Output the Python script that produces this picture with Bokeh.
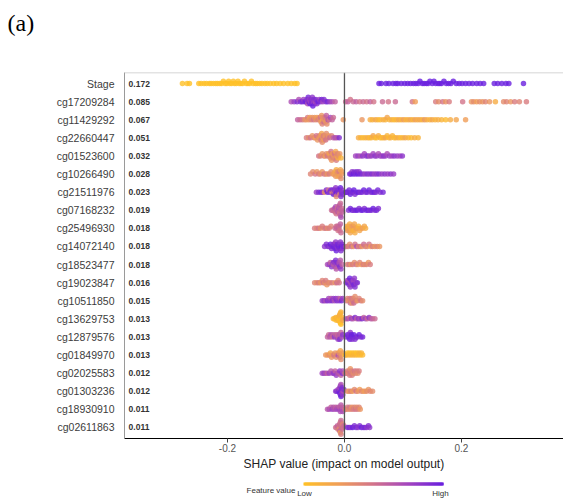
import numpy as np
from bokeh.plotting import figure
from bokeh.models import ColumnDataSource, Range1d, FixedTicker, Span
from bokeh.layouts import column
from bokeh.embed import file_html
from bokeh.resources import INLINE
from bokeh.core.properties import value

# ---------------- data ----------------
features = ["Stage", "cg17209284", "cg11429292", "cg22660447", "cg01523600",
            "cg10266490", "cg21511976", "cg07168232", "cg25496930", "cg14072140",
            "cg18523477", "cg19023847", "cg10511850", "cg13629753", "cg12879576",
            "cg01849970", "cg02025583", "cg01303236", "cg18930910", "cg02611863"]
mean_abs = [0.172, 0.085, 0.067, 0.051, 0.032, 0.028, 0.023, 0.019, 0.018, 0.018,
            0.018, 0.016, 0.015, 0.013, 0.013, 0.013, 0.012, 0.012, 0.011, 0.011]
x_ticks = [-0.2, 0.0, 0.2]
x_tick_labels = ["-0.2", "0.0", "0.2"]

# (SHAP value, normalised feature value) per sample
stage = [(-0.277,0),(-0.269,0),(-0.265,0),(-0.249,0),(-0.245,0),(-0.240,0),(-0.236,0),(-0.231,0),
         (-0.228,0),(-0.224,0),(-0.220,0),(-0.217,0),(-0.213,0),(-0.210,0),(-0.207,0),(-0.204,0),
         (-0.201,0),(-0.198,0),(-0.196,0),(-0.193,0),(-0.190,0),(-0.188,0),(-0.185,0),(-0.182,0),
         (-0.180,0),(-0.177,0),(-0.174,0),(-0.171,0),(-0.168,0),(-0.165,0),(-0.162,0),(-0.159,0),
         (-0.156,0),(-0.152,0),(-0.149,0),(-0.145,0),(-0.141,0),(-0.136,0),(-0.132,0),(-0.127,0),
         (-0.121,0),(-0.116,0),(-0.110,0),(-0.104,0),(-0.097,0),(-0.091,0),(-0.085,0),(-0.081,0),
         (0.059,1),(0.063,1),(0.071,1),(0.076,1),(0.083,1),(0.088,1),(0.091,1),(0.097,1),
         (0.103,1),(0.108,1),(0.113,1),(0.118,1),(0.122,1),(0.126,1),(0.129,1),(0.133,1),
         (0.136,1),(0.140,1),(0.143,1),(0.146,1),(0.150,1),(0.153,1),(0.156,1),(0.160,1),
         (0.163,1),(0.166,1),(0.170,1),(0.174,1),(0.178,1),(0.182,1),(0.186,1),(0.191,1),
         (0.196,1),(0.201,1),(0.207,1),(0.213,1),(0.219,1),(0.226,1),(0.232,1),(0.238,1),
         (0.256,1),(0.262,1),(0.269,1),(0.276,1),(0.281,1),(0.306,1)]
cg17209284 = [(-0.091,0.7),(-0.086,0.8),(-0.081,0.9),(-0.078,0.7),(-0.075,0.9),(-0.072,0.95),(-0.070,0.8),
              (-0.068,0.9),(-0.066,1.0),(-0.064,0.85),(-0.063,0.7),(-0.062,0.95),(-0.061,0.9),(-0.060,0.8),
              (-0.059,1.0),(-0.058,0.75),(-0.057,0.9),(-0.056,0.95),(-0.055,0.85),(-0.054,1.0),(-0.053,0.8),
              (-0.052,0.9),(-0.051,0.95),(-0.050,0.7),(-0.049,0.9),(-0.047,0.85),(-0.045,1.0),(-0.043,0.8),
              (-0.041,0.9),(-0.039,0.95),(-0.037,0.75),(-0.035,0.9),(-0.032,0.85),(-0.029,0.95),(-0.025,0.8),
              (-0.021,0.7),(-0.016,0.6),
              (0.002,0.55),(0.006,0.6),(0.010,0.5),(0.015,0.55),(0.020,0.6),(0.026,0.5),(0.032,0.55),
              (0.038,0.5),(0.044,0.6),(0.050,0.5),(0.065,0.55),(0.075,0.5),(0.087,0.55),(0.116,0.5),
              (0.121,0.25),(0.156,0.45),(0.161,0.35),(0.168,0.5),(0.173,0.3),(0.179,0.45),(0.202,0.5),
              (0.217,0.3),(0.221,0.35),(0.226,0.25),(0.231,0.35),(0.236,0.3),(0.241,0.4),(0.248,0.3),
              (0.258,0.15),(0.272,0.35),(0.277,0.4),(0.284,0.3),(0.291,0.45),(0.299,0.4),(0.311,0.45)]
cg11429292 = [(-0.080,0.6),(-0.076,0.55),(-0.072,0.5),(-0.068,0.35),(-0.065,0.3),(-0.063,0.45),(-0.061,0.3),
              (-0.059,0.25),(-0.057,0.4),(-0.055,0.3),(-0.053,0.5),(-0.051,0.3),(-0.049,0.35),(-0.047,0.25),
              (-0.045,0.45),(-0.043,0.3),(-0.042,0.35),(-0.041,0.5),(-0.040,0.25),(-0.039,0.3),(-0.038,0.4),
              (-0.037,0.2),(-0.036,0.35),(-0.035,0.55),(-0.034,0.3),(-0.033,0.45),(-0.032,0.3),(-0.031,0.6),
              (-0.030,0.35),(-0.028,0.7),(-0.026,0.5),(-0.024,0.75),(-0.021,0.6),(-0.019,0.55),(-0.002,0.3),
              (0.030,0.3),(0.044,0.15),(0.048,0.1),(0.053,0.2),(0.057,0.1),(0.061,0.05),(0.066,0.15),
              (0.070,0.1),(0.073,0.2),(0.077,0.1),(0.081,0.15),(0.085,0.05),(0.089,0.1),(0.093,0.2),
              (0.097,0.1),(0.101,0.25),(0.105,0.1),(0.109,0.15),(0.113,0.2),(0.117,0.1),(0.121,0.25),
              (0.125,0.15),(0.129,0.2),(0.133,0.1),(0.137,0.3),(0.141,0.15),(0.146,0.1),(0.150,0.2),
              (0.155,0.1),(0.160,0.15),(0.166,0.1),(0.173,0.05),(0.181,0.15),(0.191,0.2),(0.207,0.25)]
cg22660447 = [(-0.065,0.45),(-0.061,0.35),(-0.058,0.5),(-0.055,0.3),(-0.052,0.4),(-0.050,0.25),(-0.048,0.5),
              (-0.046,0.3),(-0.044,0.35),(-0.043,0.45),(-0.042,0.25),(-0.041,0.3),(-0.040,0.5),(-0.039,0.2),
              (-0.038,0.35),(-0.037,0.3),(-0.036,0.45),(-0.035,0.25),(-0.034,0.4),(-0.033,0.3),(-0.032,0.5),
              (-0.031,0.35),(-0.029,0.45),(-0.027,0.3),(-0.025,0.55),(-0.022,0.4),(-0.019,0.6),(-0.016,0.7),
              (-0.013,0.65),(-0.009,0.9),
              (0.024,0.15),(0.028,0.1),(0.032,0.05),(0.036,0.1),(0.040,0.15),(0.043,0.05),(0.046,0.1),
              (0.049,0.2),(0.052,0.1),(0.055,0.05),(0.058,0.15),(0.061,0.1),(0.064,0.05),(0.067,0.1),
              (0.070,0.2),(0.073,0.1),(0.076,0.05),(0.079,0.15),(0.082,0.1),(0.085,0.05),(0.088,0.1),
              (0.092,0.15),(0.096,0.05),(0.100,0.1),(0.104,0.2),(0.109,0.1),(0.114,0.05),(0.120,0.15),
              (0.126,0.1)]
cg01523600 = [(-0.044,0.5),(-0.041,0.4),(-0.038,0.3),(-0.035,0.45),(-0.033,0.25),(-0.031,0.35),(-0.029,0.5),
              (-0.027,0.3),(-0.026,0.4),(-0.025,0.2),(-0.024,0.35),(-0.023,0.5),(-0.022,0.3),(-0.021,0.45),
              (-0.020,0.25),(-0.019,0.4),(-0.018,0.3),(-0.017,0.5),(-0.016,0.35),(-0.015,0.2),(-0.014,0.45),
              (-0.013,0.3),(-0.012,0.4),(-0.011,0.15),(-0.010,0.35),(-0.008,0.3),(-0.006,0.1),
              (0.019,0.75),(0.023,0.8),(0.027,0.7),(0.031,0.85),(0.034,0.75),(0.037,0.8),(0.040,0.9),
              (0.043,0.7),(0.046,0.8),(0.049,0.75),(0.052,0.85),(0.055,0.8),(0.058,0.7),(0.061,0.8),
              (0.064,0.75),(0.067,0.85),(0.070,0.8),(0.073,0.7),(0.077,0.8),(0.081,0.75),(0.085,0.85),
              (0.090,0.8),(0.095,0.75),(0.099,0.85)]
cg10266490 = [(-0.058,0.4),(-0.054,0.35),(-0.050,0.5),(-0.047,0.3),(-0.044,0.45),(-0.041,0.35),(-0.038,0.3),
              (-0.035,0.5),(-0.032,0.4),(-0.029,0.3),(-0.026,0.45),(-0.023,0.35),(-0.020,0.3),(-0.018,0.25),
              (-0.016,0.2),(-0.015,0.3),(-0.014,0.15),(-0.013,0.25),(-0.012,0.35),(-0.011,0.2),(-0.010,0.3),
              (-0.009,0.45),(-0.008,0.25),(-0.007,0.2),(-0.006,0.35),(-0.005,0.3),(-0.004,0.25),
              (0.009,0.9),(0.011,0.95),(0.013,0.85),(0.015,1.0),(0.017,0.9),(0.019,0.95),(0.021,0.9),
              (0.023,1.0),(0.025,0.85),(0.027,0.95),(0.031,0.9),(0.035,0.8),(0.039,0.9),(0.043,0.85),
              (0.047,0.9),(0.051,0.8),(0.055,0.85),(0.059,0.9),(0.064,0.8),(0.069,0.85),(0.074,0.8),
              (0.079,0.85),(0.084,0.8)]
cg21511976 = [(-0.048,0.8),(-0.044,0.9),(-0.040,0.95),(-0.037,0.85),(-0.034,0.3),(-0.031,0.9),(-0.029,1.0),
              (-0.027,0.5),(-0.025,0.9),(-0.023,0.95),(-0.021,0.3),(-0.020,0.9),(-0.019,1.0),(-0.018,0.45),
              (-0.017,0.9),(-0.016,0.95),(-0.015,0.85),(-0.014,0.35),(-0.013,1.0),(-0.012,0.9),(-0.011,0.55),
              (-0.010,0.95),(-0.009,0.9),(-0.008,0.4),(-0.007,1.0),(-0.006,0.9),(-0.005,0.95),(-0.004,0.85),
              (-0.003,0.9),
              (0.002,0.95),(0.004,1.0),(0.006,0.9),(0.008,0.95),(0.010,1.0),(0.012,0.9),(0.014,0.95),
              (0.016,1.0),(0.018,0.9),(0.021,0.95),(0.024,1.0),(0.027,0.9),(0.030,0.95),(0.033,1.0),
              (0.036,0.9),(0.039,0.95),(0.042,1.0),(0.045,0.9),(0.048,0.95),(0.051,1.0),(0.054,0.9),
              (0.057,0.95),(0.061,0.9),(0.066,0.95)]
cg07168232 = [(-0.022,0.55),(-0.020,0.6),(-0.018,0.5),(-0.017,0.65),(-0.016,0.55),(-0.015,0.7),(-0.014,0.5),
              (-0.013,0.6),(-0.012,0.55),(-0.011,0.65),(-0.011,0.5),(-0.010,0.6),(-0.010,0.7),(-0.009,0.55),
              (-0.009,0.6),(-0.008,0.5),(-0.008,0.65),(-0.007,0.6),(-0.007,0.55),(-0.006,0.7),(-0.005,0.6),
              (-0.004,0.55),(-0.003,0.6),
              (0.007,0.9),(0.010,0.95),(0.013,1.0),(0.016,0.9),(0.019,0.95),(0.022,1.0),(0.025,0.9),
              (0.028,0.95),(0.031,1.0),(0.034,0.9),(0.037,0.95),(0.040,1.0),(0.043,0.9),(0.046,0.95),
              (0.049,1.0),(0.052,0.9),(0.055,0.95),(0.058,0.9)]
cg25496930 = [(-0.051,0.45),(-0.047,0.4),(-0.044,0.5),(-0.041,0.35),(-0.038,0.45),(-0.035,0.4),(-0.032,0.5),
              (-0.029,0.35),(-0.026,0.45),(-0.023,0.4),(-0.016,0.55),(-0.014,0.5),(-0.013,0.6),(-0.012,0.55),
              (-0.011,0.5),(-0.010,0.6),(-0.009,0.55),(-0.008,0.5),(-0.007,0.6),(-0.006,0.55),
              (0.003,0.2),(0.004,0.15),(0.005,0.25),(0.006,0.1),(0.007,0.2),(0.008,0.3),(0.009,0.15),
              (0.010,0.2),(0.011,0.1),(0.012,0.25),(0.013,0.15),(0.014,0.2),(0.015,0.3),(0.016,0.1),
              (0.017,0.2),(0.018,0.15),(0.020,0.25),(0.022,0.2),(0.024,0.1),(0.026,0.2),(0.028,0.15),
              (0.031,0.25),(0.034,0.2),(0.036,0.15)]
cg14072140 = [(-0.034,0.85),(-0.031,0.9),(-0.028,0.95),(-0.026,0.85),(-0.024,1.0),(-0.022,0.9),(-0.020,0.95),
              (-0.019,0.85),(-0.018,1.0),(-0.017,0.9),(-0.016,0.95),(-0.015,0.8),(-0.014,1.0),(-0.013,0.9),
              (-0.012,0.95),(-0.011,0.85),(-0.010,1.0),(-0.009,0.9),(-0.008,0.95),(-0.007,0.85),(-0.006,0.9),
              (-0.005,1.0),(-0.004,0.9),(-0.003,0.85),(-0.002,0.95),
              (0.003,0.5),(0.006,0.45),(0.009,0.35),(0.012,0.55),(0.015,0.3),(0.018,0.5),(0.021,0.7),
              (0.024,0.4),(0.027,0.5),(0.030,0.3),(0.033,0.55),(0.036,0.45),(0.039,0.35),(0.042,0.5),
              (0.045,0.25),(0.048,0.45),(0.052,0.3),(0.056,0.4),(0.060,0.3)]
cg18523477 = [(-0.029,0.7),(-0.026,0.8),(-0.024,0.6),(-0.022,0.85),(-0.020,0.75),(-0.019,0.9),(-0.018,0.6),
              (-0.017,0.85),(-0.016,0.7),(-0.015,0.9),(-0.014,0.65),(-0.013,0.8),(-0.012,0.9),(-0.011,0.6),
              (-0.010,0.85),(-0.009,0.7),(-0.008,0.9),(-0.007,0.65),(-0.006,0.8),(-0.004,0.6),
              (0.005,0.4),(0.008,0.5),(0.011,0.3),(0.014,0.45),(0.017,0.35),(0.020,0.5),(0.023,0.3),
              (0.026,0.4),(0.029,0.25),(0.032,0.45),(0.035,0.35),(0.038,0.4),(0.041,0.3),(0.044,0.45)]
cg19023847 = [(-0.051,0.4),(-0.047,0.35),(-0.044,0.45),(-0.041,0.3),(-0.038,0.4),(-0.036,0.5),(-0.034,0.35),
              (-0.032,0.45),(-0.030,0.3),(-0.028,0.4),(-0.025,0.35),(-0.021,0.45),(-0.016,0.3),(-0.013,0.55),
              (-0.011,0.4),(-0.009,0.5),
              (0.003,0.9),(0.005,0.8),(0.006,0.95),(0.007,0.7),(0.008,0.9),(0.009,1.0),(0.010,0.85),
              (0.011,0.7),(0.012,0.95),(0.013,0.8),(0.014,0.9),(0.015,0.75),(0.016,0.95),(0.017,0.85),
              (0.018,0.9),(0.020,0.8),(0.022,0.9)]
cg10511850 = [(-0.038,0.8),(-0.035,0.85),(-0.032,0.7),(-0.029,0.9),(-0.027,0.75),(-0.025,0.85),(-0.023,0.65),
              (-0.021,0.9),(-0.019,0.8),(-0.017,0.7),(-0.015,0.85),(-0.013,0.9),(-0.011,0.75),(-0.009,0.85),
              (-0.007,0.6),(-0.005,0.95),(-0.003,0.8),
              (0.003,0.5),(0.005,0.4),(0.007,0.3),(0.009,0.45),(0.010,0.55),(0.011,0.35),(0.012,0.5),
              (0.013,0.3),(0.014,0.45),(0.015,0.4),(0.016,0.55),(0.018,0.35),(0.020,0.45),(0.022,0.3),
              (0.025,0.4),(0.028,0.5),(0.031,0.35)]
cg13629753 = [(-0.019,0.1),(-0.017,0.05),(-0.015,0.1),(-0.014,0.0),(-0.013,0.1),(-0.012,0.05),(-0.011,0.15),
              (-0.010,0.05),(-0.010,0.1),(-0.009,0.0),(-0.009,0.1),(-0.008,0.05),(-0.008,0.15),(-0.007,0.05),
              (-0.007,0.1),(-0.006,0.0),(-0.006,0.1),(-0.005,0.05),(-0.004,0.1),(-0.003,0.2),
              (0.003,0.6),(0.006,0.7),(0.009,0.55),(0.012,0.8),(0.015,0.65),(0.018,0.9),(0.021,0.6),
              (0.024,0.85),(0.027,0.7),(0.030,0.9),(0.033,0.6),(0.036,0.8),(0.039,0.55),(0.042,0.85),
              (0.045,0.65),(0.048,0.6),(0.052,0.55)]
cg12879576 = [(-0.029,0.6),(-0.027,0.55),(-0.025,0.65),(-0.023,0.7),(-0.021,0.55),(-0.019,0.6),(-0.017,0.85),
              (-0.015,0.6),(-0.013,0.7),(-0.012,0.55),(-0.011,0.8),(-0.010,0.6),(-0.009,0.65),(-0.008,0.9),
              (-0.006,0.6),(-0.004,0.7),(-0.003,0.85),
              (0.003,0.9),(0.005,1.0),(0.007,0.95),(0.008,0.9),(0.009,1.0),(0.010,0.85),(0.011,0.95),
              (0.012,1.0),(0.013,0.9),(0.014,0.95),(0.016,1.0),(0.018,0.9),(0.020,0.95),(0.022,0.9),
              (0.025,1.0),(0.028,0.9),(0.031,0.95)]
cg01849970 = [(-0.032,0.3),(-0.029,0.25),(-0.026,0.35),(-0.024,0.2),(-0.022,0.3),(-0.020,0.25),(-0.018,0.5),
              (-0.016,0.3),(-0.014,0.35),(-0.012,0.55),(-0.011,0.25),(-0.010,0.7),(-0.009,0.3),(-0.008,0.45),
              (-0.007,0.2),(-0.006,0.35),(-0.005,0.3),(-0.003,0.25),
              (0.001,0.05),(0.003,0.1),(0.005,0.0),(0.007,0.1),(0.009,0.05),(0.011,0.1),(0.013,0.0),
              (0.015,0.1),(0.017,0.05),(0.019,0.1),(0.021,0.0),(0.023,0.05),(0.025,0.1),(0.027,0.05),
              (0.029,0.1),(0.031,0.05)]
cg02025583 = [(-0.038,0.75),(-0.035,0.8),(-0.032,0.7),(-0.029,0.6),(-0.026,0.8),(-0.023,0.65),(-0.020,0.75),
              (-0.018,0.85),(-0.016,0.6),(-0.014,0.8),(-0.012,0.7),(-0.010,0.65),(-0.008,0.85),(-0.006,0.6),
              (-0.004,0.9),(-0.003,0.7),
              (0.001,0.45),(0.003,0.5),(0.005,0.4),(0.007,0.35),(0.008,0.5),(0.009,0.45),(0.010,0.3),
              (0.011,0.5),(0.012,0.4),(0.013,0.45),(0.015,0.35),(0.017,0.5),(0.019,0.4),(0.021,0.45),
              (0.023,0.35),(0.025,0.45)]
cg01303236 = [(-0.015,0.85),(-0.013,0.9),(-0.011,0.7),(-0.010,0.95),(-0.009,0.85),(-0.008,1.0),(-0.008,0.75),
              (-0.007,0.9),(-0.007,0.85),(-0.006,1.0),(-0.006,0.7),(-0.005,0.9),(-0.005,0.95),(-0.004,0.8),
              (-0.004,0.9),(-0.003,0.85),(-0.002,0.7),(-0.001,0.9),
              (0.005,0.35),(0.008,0.3),(0.011,0.45),(0.014,0.25),(0.017,0.35),(0.020,0.5),(0.023,0.3),
              (0.026,0.25),(0.029,0.4),(0.032,0.3),(0.035,0.25),(0.038,0.35),(0.041,0.3),(0.044,0.4),
              (0.048,0.35)]
cg18930910 = [(-0.029,0.65),(-0.026,0.7),(-0.023,0.6),(-0.021,0.8),(-0.019,0.65),(-0.017,0.7),(-0.015,0.6),
              (-0.013,0.75),(-0.011,0.65),(-0.009,0.8),(-0.008,0.6),(-0.007,0.7),(-0.006,0.65),(-0.005,0.75),
              (-0.004,0.6),(-0.003,0.7),
              (0.001,0.5),(0.003,0.4),(0.005,0.45),(0.007,0.35),(0.009,0.5),(0.011,0.4),(0.013,0.3),
              (0.015,0.45),(0.017,0.4),(0.019,0.5),(0.021,0.35),(0.023,0.45),(0.025,0.4),(0.027,0.3)]
cg02611863 = [(-0.015,0.55),(-0.013,0.5),(-0.012,0.6),(-0.011,0.45),(-0.010,0.55),(-0.009,0.5),(-0.009,0.35),
              (-0.008,0.55),(-0.008,0.6),(-0.007,0.5),(-0.007,0.2),(-0.006,0.55),(-0.006,0.45),(-0.005,0.6),
              (-0.005,0.5),(-0.004,0.55),(-0.003,0.4),(-0.002,0.5),(-0.001,0.55),
              (0.005,0.9),(0.008,0.95),(0.011,0.85),(0.014,1.0),(0.017,0.9),(0.020,0.95),(0.023,0.85),
              (0.026,0.9),(0.029,1.0),(0.032,0.9),(0.035,0.95),(0.038,0.85),(0.041,0.9),(0.043,0.85)]

samples = [stage, cg17209284, cg11429292, cg22660447, cg01523600, cg10266490, cg21511976,
           cg07168232, cg25496930, cg14072140, cg18523477, cg19023847, cg10511850, cg13629753,
           cg12879576, cg01849970, cg02025583, cg01303236, cg18930910, cg02611863]

# ---------------- colour map (low = yellow, high = purple) ----------------
STOPS = [(0.0, (255, 193, 40)), (0.25, (240, 158, 88)), (0.5, (210, 116, 138)),
         (0.75, (164, 70, 190)), (1.0, (106, 32, 222))]

def cmap(v):
    v = min(max(v, 0.0), 1.0)
    for (a, ca), (b, cb) in zip(STOPS[:-1], STOPS[1:]):
        if v <= b:
            t = (v - a) / (b - a)
            c = [round(ca[k] + t * (cb[k] - ca[k])) for k in range(3)]
            return "#%02x%02x%02x" % tuple(c)
    return "#%02x%02x%02x" % STOPS[-1][1]

BIN = 0.004
STEP = 0.12

def swarm(xs):
    xs = np.asarray(xs, dtype=float)
    q = np.round(xs / BIN)
    order = np.argsort(q, kind="stable")
    ys = np.zeros(len(xs))
    layer, last = 0, None
    for i in order:
        if q[i] != last:
            layer = 0
        ys[i] = np.ceil(layer / 2) * ((layer % 2) * 2 - 1)
        layer += 1
        last = q[i]
    m = np.abs(ys).max()
    step = STEP if m == 0 else min(STEP, 0.38 / m)
    return ys * step

n = len(features)
xs, ys, cols = [], [], []
for i, pts in enumerate(samples):
    row = n - 1 - i
    sx = [p_[0] for p_ in pts]
    off = swarm(sx)
    for (s, v), o in zip(pts, off):
        xs.append(s)
        ys.append(row + o)
        cols.append(cmap(v))

src = ColumnDataSource(dict(x=xs, y=ys, c=cols))

# ---------------- main figure ----------------
W = 563
H1 = 476
PX = 585.0                       # pixels per SHAP unit
Y_TOP = 19.61
xr = Range1d(-0.376, 0.3744)
p = figure(width=W, height=H1, x_range=xr, y_range=Range1d(-0.61, Y_TOP),
           output_backend="svg", toolbar_location=None,
           min_border_left=124, min_border_right=0, min_border_top=71, min_border_bottom=38)
p.outline_line_color = None
p.xgrid.visible = False
p.ygrid.visible = False
p.background_fill_color = "white"
p.border_fill_color = "white"

# panel tag "(a)" (second, blank line keeps it high above the frame)
p.title.text = "(a)\n "
p.title.text_font = "Liberation Serif"
p.title.text_font_size = "24px"
p.title.text_font_style = "normal"
p.title.text_color = "black"
p.title.align = "left"
p.title.vertical_align = "top"
p.title.offset = -117
p.title.standoff = 18

p.add_layout(Span(location=0, dimension="height", line_color="#555555", line_width=1.3))
p.add_layout(Span(location=Y_TOP, dimension="width", line_color="#c8c8c8", line_width=1.5))

p.scatter("x", "y", source=src, size=5.5, fill_color="c", line_color=None, fill_alpha=0.8)

p.text(x=[-0.369] * n, y=[n - 1 - i for i in range(n)], text=["%.3f" % m for m in mean_abs],
       text_font=value("Liberation Sans"), text_font_size="8.5px", text_font_style="bold",
       text_color="#333333", text_align="left", text_baseline="middle")

p.yaxis.ticker = FixedTicker(ticks=list(range(n)))
p.yaxis.major_label_overrides = {n - 1 - i: f for i, f in enumerate(features)}
p.yaxis.major_tick_line_color = None
p.yaxis.minor_tick_line_color = None
p.yaxis.axis_line_color = "#9a9a9a"
p.yaxis.axis_line_width = 1
p.yaxis.major_label_text_font = "Liberation Sans"
p.yaxis.major_label_text_font_size = "10.5px"
p.yaxis.major_label_text_color = "#3c3c3c"
p.yaxis.major_label_standoff = 4

p.xaxis.ticker = FixedTicker(ticks=x_ticks)
p.xaxis.major_label_overrides = {t: l for t, l in zip(x_ticks, x_tick_labels)}
p.xaxis.axis_line_color = "black"
p.xaxis.axis_line_width = 1.2
p.xaxis.major_tick_line_color = "#444444"
p.xaxis.major_tick_in = 0
p.xaxis.major_tick_out = 4
p.xaxis.minor_tick_line_color = None
p.xaxis.major_label_text_font = "Liberation Sans"
p.xaxis.major_label_text_font_size = "10px"
p.xaxis.major_label_text_color = "#555555"
p.xaxis.major_label_standoff = 1
p.xaxis.axis_label = "SHAP value (impact on model output)"
p.xaxis.axis_label_text_font = "Liberation Sans"
p.xaxis.axis_label_text_font_size = "12px"
p.xaxis.axis_label_text_font_style = "normal"
p.xaxis.axis_label_text_color = "#222222"
p.xaxis.axis_label_standoff = 2

# ---------------- colour bar strip (shares the x scale of the main plot) ----------------
H2 = 24
p2 = figure(width=W, height=H2, x_range=xr, y_range=Range1d(H2, 0), title=None,
            output_backend="svg", toolbar_location=None,
            min_border_left=124, min_border_right=0, min_border_top=0, min_border_bottom=0)
p2.axis.visible = False
p2.xgrid.visible = False
p2.ygrid.visible = False
p2.outline_line_color = None

bar_l, bar_r = -41 / PX, 98 / PX
nseg = 139
edges = [bar_l + (bar_r - bar_l) * k / nseg for k in range(nseg + 1)]
p2.quad(left=edges[:-1], right=[e + 1.3 / PX for e in edges[1:]],
        top=[6] * nseg, bottom=[9] * nseg,
        fill_color=[cmap(k / (nseg - 1)) for k in range(nseg)], line_color=None)
p2.text(x=[bar_l - 8 / PX], y=[14], text=["Feature value"], text_font=value("Liberation Sans"),
        text_font_size="8px", text_color="#333333", text_align="right", text_baseline="middle")
p2.text(x=[bar_l + 1 / PX, bar_r - 2 / PX], y=[16.5, 16.5], text=["Low", "High"],
        text_font=value("Liberation Sans"), text_font_size="8px", text_color="#333333",
        text_align="center", text_baseline="middle")

layout = column(p, p2, spacing=0)
open("out.html", "w").write(file_html(layout, INLINE))
